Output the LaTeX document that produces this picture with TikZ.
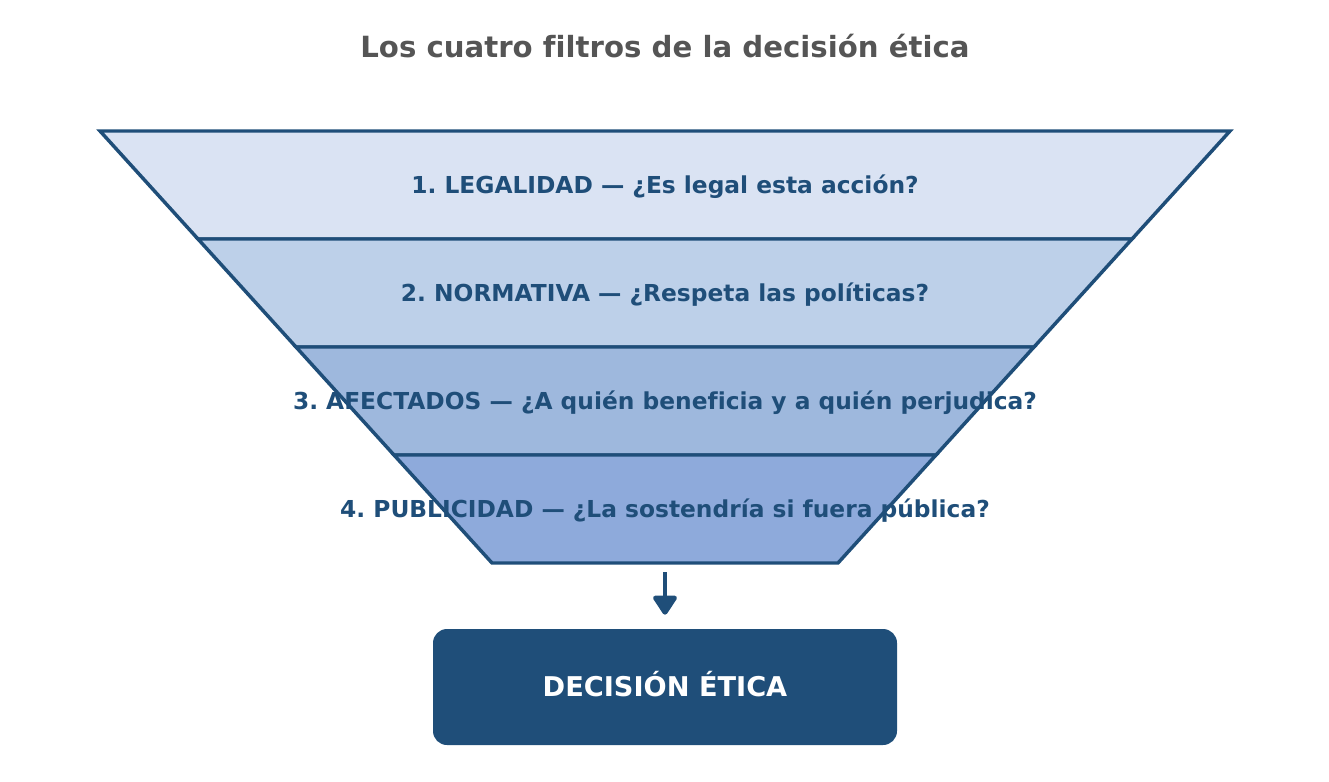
\documentclass[tikz,border=0pt]{standalone}
\usepackage{fontspec}
\setmainfont[Ligatures=NoCommon]{DejaVu Sans}
\usetikzlibrary{positioning,arrows.meta,calc}
\definecolor{funnelblue}{HTML}{1F4E79}
\definecolor{titlegray}{HTML}{555555}
\definecolor{layerA}{HTML}{DAE3F3}
\definecolor{layerB}{HTML}{BDD0E9}
\definecolor{layerC}{HTML}{9EB8DD}
\definecolor{layerD}{HTML}{8EAADB}
\frenchspacing
\tikzset{
  layer/.style={draw=funnelblue, line width=2.6pt, line join=miter},
  layertext/.style={text=funnelblue, font=\fontsize{17.5}{21}\selectfont\bfseries},
  result/.style={fill=funnelblue, rounded corners=10.5pt, minimum width=348pt,
    minimum height=87pt, text=white, font=\fontsize{20.4}{24}\selectfont\bfseries},
}
\begin{document}
\begin{tikzpicture}[x=0.75pt, y=-0.75pt]
    \useasboundingbox (0,0) rectangle (1329,782);

    % Title
    \node[text=titlegray, font=\fontsize{21.9}{26}\selectfont\bfseries] (title) at (665,46)
        {Los cuatro filtros de la decisión ética};

    % Funnel layers
    \foreach \col/\tl/\tr/\ty/\bl/\br/\by in {layerA/100/1230/131/198/1132/239,
                                            layerB/198/1132/239/296/1034/347,
                                            layerC/296/1034/347/394/936/455,
                                            layerD/394/936/455/492/838/563} {
        \filldraw[layer, fill=\col] (\tl,\ty) -- (\tr,\ty) -- (\br,\by) -- (\bl,\by) -- cycle;
    }
    \node[layertext] (l1) at (665,186.5) {1. LEGALIDAD — ¿Es legal esta acción?};
    \node[layertext] (l2) at (665,294.5) {2. NORMATIVA — ¿Respeta las políticas?};
    \node[layertext] (l3) at (665,402.5) {3. AFECTADOS — ¿A quién beneficia y a quién perjudica?};
    \node[layertext] (l4) at (665,510.5) {4. PUBLICIDAD — ¿La sostendría si fuera pública?};

    % Result
    \coordinate (funnelend) at (665,572);
    \node[result] (decision) at (665,687) {\raisebox{4pt}{DECISIÓN ÉTICA}};
    \draw[funnelblue, line width=3.6pt, -{Triangle[round, length=16pt, width=20pt]}]
        (funnelend) -- ([yshift=10.5pt]decision.north);
\end{tikzpicture}
\end{document}
